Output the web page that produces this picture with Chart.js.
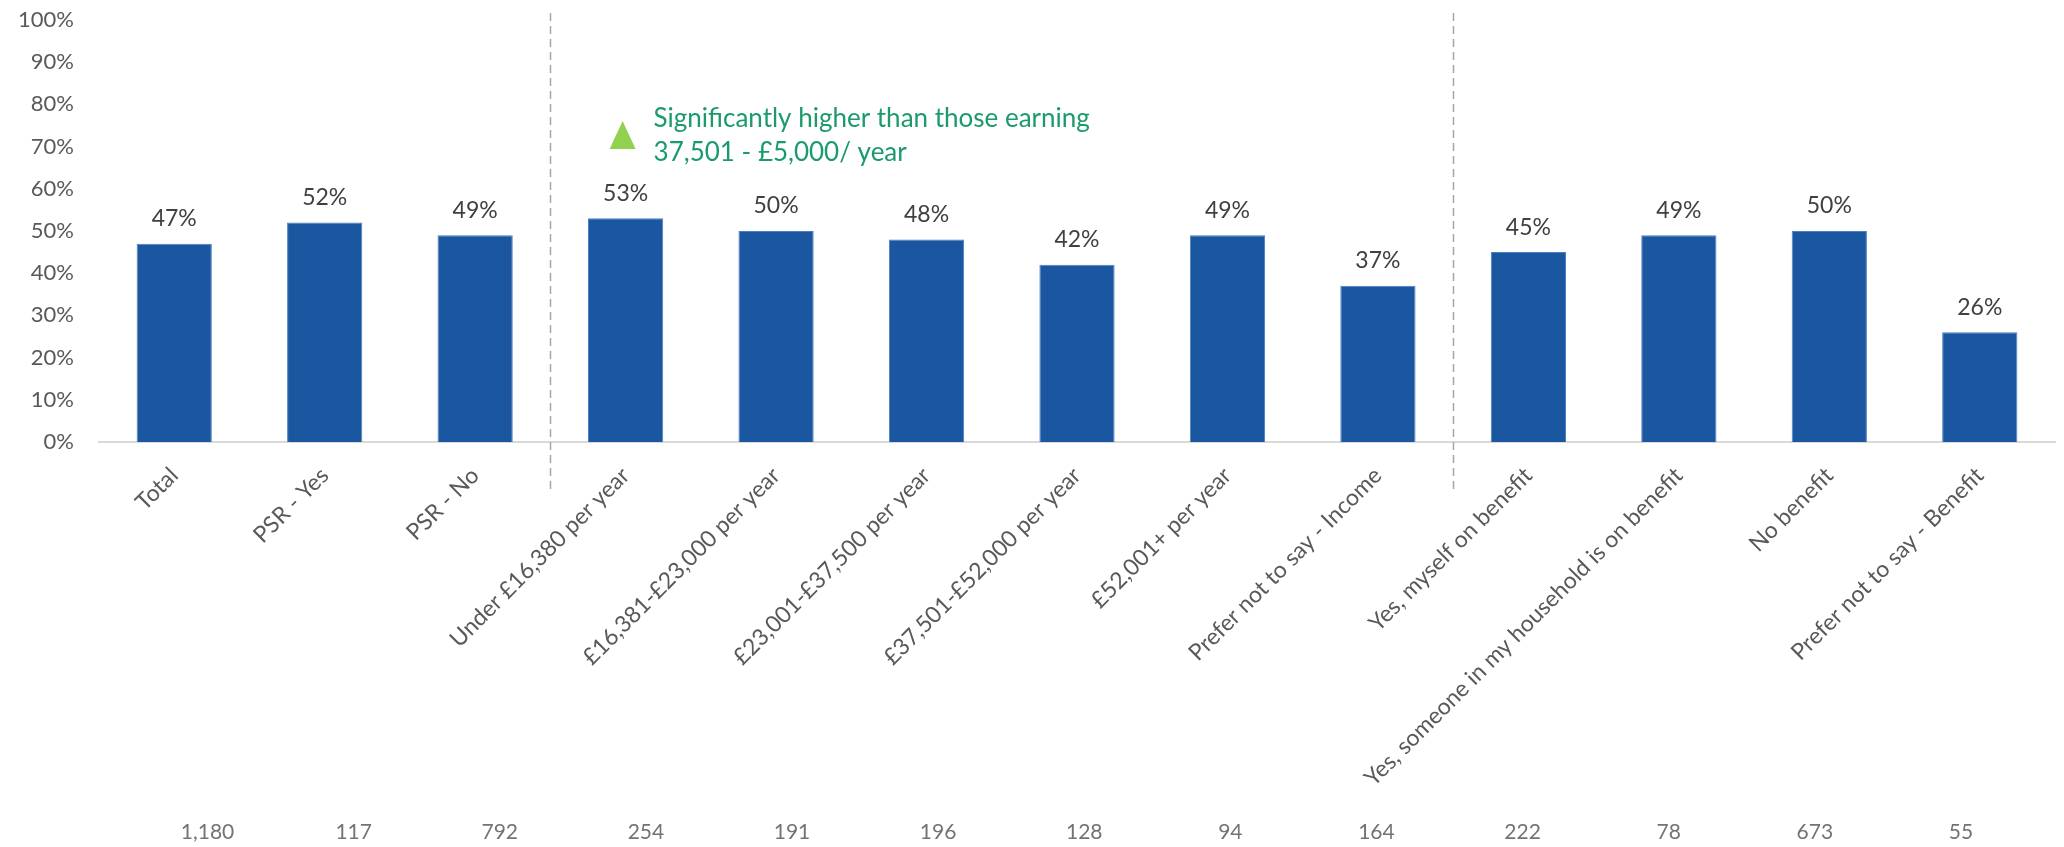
<!DOCTYPE html>
<html>
<head>
<meta charset="utf-8">
<script src="https://cdn.jsdelivr.net/npm/chart.js@4"></script>
<style>
  html, body { margin: 0; padding: 0; background: #fff; }
  #wrap { width: 2064px; height: 847px; }
</style>
</head>
<body>
<div id="wrap"><canvas id="benefitChart" width="2064" height="847"></canvas></div>
<script>
const categories = [
    "Total", "PSR - Yes", "PSR - No",
    "Under £16,380 per year", "£16,381-£23,000 per year", "£23,001-£37,500 per year",
    "£37,501-£52,000 per year", "£52,001+ per year", "Prefer not to say - Income",
    "Yes, myself on benefit", "Yes, someone in my household is on benefit",
    "No benefit", "Prefer not to say - Benefit"
];
const values = [47, 52, 49, 53, 50, 48, 42, 49, 37, 45, 49, 50, 26];
const sampleSizes = ["1,180", "117", "792", "254", "191", "196", "128", "94", "164", "222", "78", "673", "55"];
const yTicks = [0, 10, 20, 30, 40, 50, 60, 70, 80, 90, 100];
const dividers = [2.5, 8.5];   // between groups
const noteLines = ["Significantly higher than those earning", "37,501 - £5,000/ year"];

const FONT = "Lato, 'Open Sans', sans-serif";

// the base-size row is a separate table under the chart, slightly tighter than the bars
const nRowStart = 0.0555;
const nRowStep = 0.0747;

// value labels, group dividers, significance note and base sizes
const overlay = {
    id: "overlay",
    afterDatasetsDraw(chart) {
        const ctx = chart.ctx;
        const x = chart.scales.x;
        const y = chart.scales.y;
        ctx.save();

        // dashed dividers
        ctx.strokeStyle = "#a6a6a6";
        ctx.lineWidth = 1.5;
        ctx.setLineDash([8, 5]);
        dividers.forEach(d => {
            const px = Math.round(x.getPixelForValue(d)) + 0.5;
            ctx.beginPath();
            ctx.moveTo(px, 13);
            ctx.lineTo(px, 492);
            ctx.stroke();
        });
        ctx.setLineDash([]);

        // value labels
        ctx.fillStyle = "#404040";
        ctx.font = "23px " + FONT;
        ctx.textAlign = "center";
        ctx.textBaseline = "middle";
        chart.getDatasetMeta(0).data.forEach((bar, i) => {
            ctx.fillText(values[i] + "%", bar.x, bar.y - 25);
        });

        // significance note
        const tx = x.getPixelForValue(3) - 3;
        const ty = y.getPixelForValue(72.5);
        ctx.fillStyle = "#92d050";
        ctx.beginPath();
        ctx.moveTo(tx, ty - 15);
        ctx.lineTo(tx + 13, ty + 13);
        ctx.lineTo(tx - 13, ty + 13);
        ctx.closePath();
        ctx.fill();

        ctx.fillStyle = "#1b9a6c";
        ctx.font = "26px " + FONT;
        ctx.textAlign = "left";
        ctx.fillText(noteLines[0], tx + 31, ty - 17);
        ctx.fillText(noteLines[1], tx + 31, ty + 17);

        // base sizes row
        ctx.fillStyle = "#737373";
        ctx.font = "21px " + FONT;
        ctx.textAlign = "center";
        sampleSizes.forEach((n, i) => {
            ctx.fillText(n, x.getPixelForDecimal(nRowStart + i * nRowStep), 832);
        });
        ctx.restore();
    }
};

new Chart(document.getElementById("benefitChart"), {
    type: "bar",
    data: {
        labels: categories,
        datasets: [{
            data: values,
            backgroundColor: "#1b57a0",
            borderColor: "#4a7ec4",
            borderWidth: 1,
            barPercentage: 0.5,
            categoryPercentage: 1
        }]
    },
    options: {
        responsive: false,
        animation: false,
        devicePixelRatio: 1,
        layout: { padding: { top: 20, right: 9, bottom: 0, left: 0 } },
        plugins: {
            legend: { display: false },
            tooltip: { enabled: false }
        },
        scales: {
            x: {
                grid: { display: false },
                border: { display: true, color: "#d9d9d9", width: 2 },
                ticks: {
                    color: "#595959",
                    font: { family: FONT, size: 23 },
                    minRotation: 45,
                    maxRotation: 45,
                    autoSkip: false,
                    padding: 12
                },
                afterFit: s => { s.height = 405; }
            },
            y: {
                min: 0,
                max: 100,
                grid: { display: false, drawTicks: false },
                border: { display: false },
                afterBuildTicks: s => { s.ticks = yTicks.map(v => ({ value: v })); },
                ticks: {
                    color: "#595959",
                    font: { family: FONT, size: 22 },
                    padding: 25,
                    callback: v => v + "%"
                },
                afterFit: s => {
                    s.width = 99;
                    s.paddingTop = 0;
                    s.paddingBottom = 0;
                }
            }
        }
    },
    plugins: [overlay]
});
</script>
</body>
</html>
